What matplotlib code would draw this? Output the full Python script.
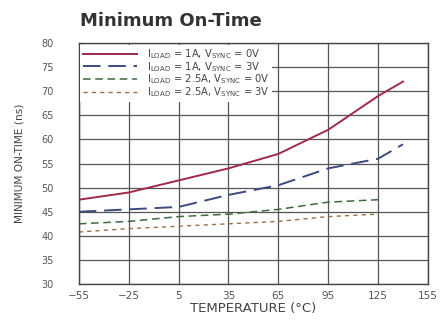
import matplotlib
matplotlib.use("Agg")
import matplotlib.pyplot as plt

temp_a = [-55, -25, 5, 35, 65, 95, 125, 140]
red_1a_0v = [47.5, 49.0, 51.5, 54.0, 57.0, 62.0, 69.0, 72.0]
blue_1a_3v = [45.0, 45.5, 46.0, 48.5, 50.5, 54.0, 56.0, 59.0]
temp_b = [-55, -25, 5, 35, 65, 95, 125]
green_25a_0v = [42.5, 43.0, 44.0, 44.5, 45.5, 47.0, 47.5]
dot_25a_3v = [40.8, 41.5, 42.0, 42.5, 43.0, 44.0, 44.5]

labels = [r"I$_{\rm LOAD}$ = 1A, V$_{\rm SYNC}$ = 0V",
          r"I$_{\rm LOAD}$ = 1A, V$_{\rm SYNC}$ = 3V",
          r"I$_{\rm LOAD}$ = 2.5A, V$_{\rm SYNC}$ = 0V",
          r"I$_{\rm LOAD}$ = 2.5A, V$_{\rm SYNC}$ = 3V"]
xticks = [-55, -25, 5, 35, 65, 95, 125, 155]
xticklabels = ["\u221255", "\u221225", "5", "35", "65", "95", "125", "155"]
yticks = [30, 35, 40, 45, 50, 55, 60, 65, 70, 75, 80]

plt.rcParams['font.family'] = ['DejaVu Sans']
plt.rcParams['mathtext.fontset'] = 'dejavusans'

fig = plt.figure(figsize=(4.43, 3.21), dpi=100)
ax = fig.add_axes([0.178, 0.115, 0.788, 0.751])

ax.plot(temp_a, red_1a_0v, color='#a02a48', lw=1.4, label=labels[0])
ax.plot(temp_a, blue_1a_3v, color='#3c4a80', lw=1.4, dashes=(9, 4), label=labels[1])
ax.plot(temp_b, green_25a_0v, color='#3f6a40', lw=1.1, dashes=(5, 3), label=labels[2])
ax.plot(temp_b, dot_25a_3v, color='#9a7048', lw=1.0, dashes=(3, 3), label=labels[3])

ax.set_xlim(-55, 155)
ax.set_ylim(30, 80)
ax.set_xticks(xticks)
ax.set_xticklabels(xticklabels)
ax.set_yticks(yticks)
ax.grid(True, color='#555555', lw=0.9)
ax.set_axisbelow(True)
for s in ax.spines.values():
    s.set_color('#444444')
    s.set_linewidth(1.0)
ax.tick_params(axis='y', length=0, labelsize=7, colors='#555555', pad=18)
ax.tick_params(axis='x', length=0, labelsize=7.5, colors='#555555', pad=5)

ax.set_xlabel("TEMPERATURE (\u00b0C)", fontsize=9.5, color='#444444', labelpad=1)
fig.text(20 / 443, 1 - 163 / 321, "MINIMUM ON-TIME (ns)", rotation=90, fontsize=7.6,
         color='#444444', ha='center', va='center')

fig.text(0.18, 0.935, "Minimum On-Time", fontsize=13, fontweight='bold', color='#333333', va='center')

leg = ax.legend(loc='upper left', frameon=True, facecolor='white', edgecolor='none',
                framealpha=1, fancybox=False, fontsize=7.2, handlelength=5.4,
                labelspacing=-0.1, borderaxespad=0.15, borderpad=0.25, handletextpad=1.0)
for t in leg.get_texts():
    t.set_color('#444444')

fig.savefig("out.png", dpi=100)
